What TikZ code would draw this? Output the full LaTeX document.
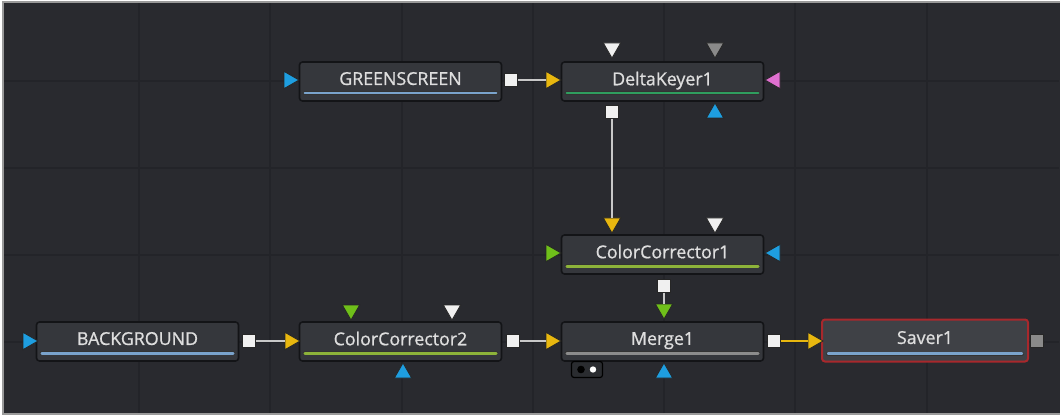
\documentclass[tikz,border=0pt]{standalone}
\usepackage{fontspec}
\setmainfont{Open Sans}
\newfontfamily\toolfont{Open Sans}[FakeBold=0.9]
\usetikzlibrary{shapes.geometric,calc}
\definecolor{bg}{HTML}{292A2F}
\definecolor{gridc}{HTML}{232429}
\definecolor{framec}{HTML}{9A9A9A}
\definecolor{toolfill}{HTML}{35373C}
\definecolor{toolborder}{HTML}{131417}
\definecolor{txt}{HTML}{DEDEDE}
\definecolor{barblue}{HTML}{7AA3CC}
\definecolor{bargreen}{HTML}{2F9E5F}
\definecolor{barlime}{HTML}{8DB33A}
\definecolor{bargray}{HTML}{8C8C8C}
\definecolor{pblue}{HTML}{1E9EE0}
\definecolor{pyellow}{HTML}{E8B70F}
\definecolor{pgreen}{HTML}{6FBF1A}
\definecolor{pwhite}{HTML}{F0F0F0}
\definecolor{pgray}{HTML}{8A8A8A}
\definecolor{ppink}{HTML}{E070D0}
\definecolor{saverred}{HTML}{A8282C}
\definecolor{linec}{HTML}{C8C8C8}
\tikzset{
  tool/.style={draw=toolborder, line width=1.6pt, fill=toolfill, rounded corners=3pt,
    minimum width=202pt, minimum height=39pt, inner sep=0pt, text=txt,
    font=\toolfont\fontsize{17.8}{20}\selectfont},
  saverbox/.style={tool, draw=saverred, line width=2pt, minimum width=206pt, minimum height=42pt, fill=toolfill!95!white},
  tri/.style={regular polygon, regular polygon sides=3, minimum size=20pt, inner sep=0pt,
    draw=black!85, line width=0.8pt, fill=#1},
  triR/.style={tri=#1, shape border rotate=-90},
  triL/.style={tri=#1, shape border rotate=90},
  triD/.style={tri=#1, shape border rotate=180},
  triU/.style={tri=#1},
  outsq/.style={rectangle, minimum size=12.5pt, inner sep=0pt, fill=#1, draw=black!85, line width=0.8pt},
  toolbar/.style={draw=black!80, line width=4pt, line cap=round, postaction={draw=#1, line width=2.4pt, line cap=round}},
  conn/.style={draw=linec, line width=1.3pt},
  gridline/.style={draw=gridc, line width=1.2pt},
}
\begin{document}
\begin{tikzpicture}[x=1pt,y=-1pt]
\useasboundingbox (0,0) rectangle (1061,417);
\fill[white] (0,0) rectangle (1061,417);
\fill[bg] (3,2) rectangle (1060,414);
\foreach \x in {139,270,402,533,664,795,927}
  \draw[gridline] (\x,3) -- (\x,413);
\foreach \y in {81,168,255,342}
  \draw[gridline] (4,\y) -- (1059,\y);
\draw[framec, line width=1.6pt] (1060,2) -- (3,2) -- (3,414) -- (1060,414);

% tools
\node[tool] (gs) at (400.5,81.5) {\raisebox{6pt}{GREENSCREEN}};
\node[tool] (dk) at (662.5,81.5) {\raisebox{6pt}{DeltaKeyer1}};
\node[tool] (cc1) at (662.5,254.5) {\raisebox{6pt}{ColorCorrector1}};
\node[tool] (mg) at (662.5,341.5) {\raisebox{6pt}{Merge1}};
\node[tool] (bgr) at (137.5,341.5) {\raisebox{6pt}{BACKGROUND}};
\node[tool] (cc2) at (400.5,341.5) {\raisebox{6pt}{ColorCorrector2}};
\node[saverbox] (sv) at (925,340.5) {\raisebox{6pt}{Saver1}};

% bars
\draw[toolbar=barblue] ($(gs.south west)+(6,-8.5)$) -- ($(gs.south east)+(-6,-8.5)$);
\draw[toolbar=bargreen] ($(dk.south west)+(6,-8.5)$) -- ($(dk.south east)+(-6,-8.5)$);
\draw[toolbar=barlime] ($(cc1.south west)+(6,-8.5)$) -- ($(cc1.south east)+(-6,-8.5)$);
\draw[toolbar=bargray] ($(mg.south west)+(6,-8.5)$) -- ($(mg.south east)+(-6,-8.5)$);
\draw[toolbar=barblue] ($(bgr.south west)+(6,-8.5)$) -- ($(bgr.south east)+(-6,-8.5)$);
\draw[toolbar=barlime] ($(cc2.south west)+(6,-8.5)$) -- ($(cc2.south east)+(-6,-8.5)$);
\draw[toolbar=barblue] ($(sv.south west)+(7,-9)$) -- ($(sv.south east)+(-7,-9)$);

% merge switch
\node[draw=black, fill=toolfill!80!black, rounded corners=2.5pt, minimum width=31pt, minimum height=16pt, inner sep=0pt, line width=1.2pt] (mgsw) at (587,369.5) {};
\fill[black] ($(mgsw.center)+(-6,0)$) circle (3.8pt);
\fill[white] ($(mgsw.center)+(6,0)$) circle (3.2pt);

% ports: GREENSCREEN
\node[triR=pblue] (gsin) at (289,80) {};
\node[outsq=pwhite] (gsout) at (511,80) {};
% DeltaKeyer1
\node[triR=pyellow] (dkin) at (551,80) {};
\node[triD=pwhite] (dkt1) at (612,48) {};
\node[triD=pgray] (dkt2) at (715,48) {};
\node[triL=ppink] (dkr) at (775,80) {};
\node[triU=pblue] (dkb) at (715,113) {};
\node[outsq=pwhite] (dkout) at (612,112) {};
% ColorCorrector1
\node[triD=pyellow] (cc1in) at (612,223) {};
\node[triD=pwhite] (cc1t) at (715,223) {};
\node[triR=pgreen] (cc1l) at (551,253) {};
\node[triL=pblue] (cc1r) at (775,253) {};
\node[outsq=pwhite] (cc1out) at (664,286) {};
% Merge1
\node[triD=pgreen] (mgfg) at (664,309) {};
\node[triR=pyellow] (mgin) at (551,341) {};
\node[triU=pblue] (mgb) at (664,373) {};
\node[outsq=pwhite] (mgout) at (774,341) {};
% BACKGROUND
\node[triR=pblue] (bgin) at (28,341) {};
\node[outsq=pwhite] (bgout) at (249,341) {};
% ColorCorrector2
\node[triR=pyellow] (cc2in) at (290,341) {};
\node[triD=pgreen] (cc2t1) at (351,310) {};
\node[triD=pwhite] (cc2t2) at (452,310) {};
\node[triU=pblue] (cc2b) at (403,373) {};
\node[outsq=pwhite] (cc2out) at (513,341) {};
% Saver1
\node[triR=pyellow] (svin) at (813,341) {};
\node[outsq=pgray] (svout) at (1037,341) {};

% connectors
\draw[conn] (gsout) -- (dkin);
\draw[conn] (dkout) -- (cc1in);
\draw[conn] (cc1out) -- (mgfg);
\draw[conn] (bgout) -- (cc2in);
\draw[conn] (cc2out) -- (mgin);
\draw[draw=pyellow, line width=2.6pt] (mgout) -- (svin);
\end{tikzpicture}
\end{document}
